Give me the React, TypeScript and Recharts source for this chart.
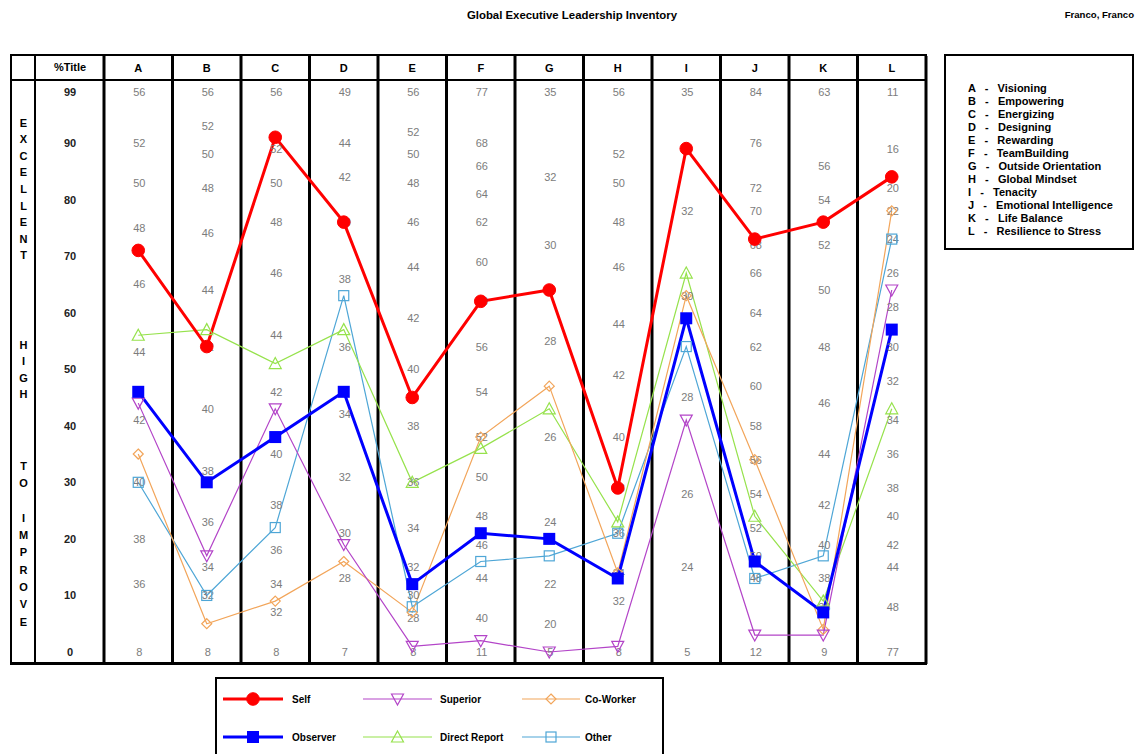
import React from 'react';
import { ComposedChart, Line, Scatter, XAxis, YAxis, ReferenceLine } from 'recharts';

const categories = ['A', 'B', 'C', 'D', 'E', 'F', 'G', 'H', 'I', 'J', 'K', 'L'];
const competencies = [
  'Visioning', 'Empowering', 'Energizing', 'Designing', 'Rewarding', 'TeamBuilding',
  'Outside Orientation', 'Global Mindset', 'Tenacity', 'Emotional Intelligence',
  'Life Balance', 'Resilience to Stress',
];
const pctTicks = [0, 10, 20, 30, 40, 50, 60, 70, 80, 90, 99];

// percentile per competency
const selfScores = [71, 54, 91, 76, 45, 62, 64, 29, 89, 73, 76, 84];
const observerScores = [46, 30, 38, 46, 12, 21, 20, 13, 59, 16, 7, 57];
const superiorScores = [44, 17, 43, 19, 1, 2, 0, 1, 41, 3, 3, 64];
const coWorkerScores = [35, 5, 9, 16, 7, 38, 47, 14, 63, 34, 4, 78];
const directReportScores = [56, 57, 51, 57, 30, 36, 43, 23, 67, 24, 9, 43];
const otherScores = [30, 10, 22, 63, 8, 16, 17, 21, 54, 13, 17, 73];

// raw score -> percentile, one list per column
const rawA = [[56, 99], [52, 90], [50, 83], [48, 75], [46, 65], [44, 53], [42, 41], [40, 30], [38, 20], [36, 12], [8, 0]];
const rawB = [[56, 99], [52, 93], [50, 88], [48, 82], [46, 74], [44, 64], [42, 54], [40, 43], [38, 32], [36, 23], [34, 15], [32, 10], [8, 0]];
const rawC = [[56, 99], [52, 89], [50, 83], [48, 76], [46, 67], [44, 56], [42, 46], [40, 35], [38, 26], [36, 18], [34, 12], [32, 7], [8, 0]];
const rawD = [[49, 99], [44, 90], [42, 84], [40, 76], [38, 66], [36, 54], [34, 42], [32, 31], [30, 21], [28, 13], [7, 0]];
const rawE = [[56, 99], [52, 92], [50, 88], [48, 83], [46, 76], [44, 68], [42, 59], [40, 50], [38, 40], [36, 30], [34, 22], [32, 15], [30, 10], [28, 6], [8, 0]];
const rawF = [[77, 99], [68, 90], [66, 86], [64, 81], [62, 76], [60, 69], [58, 62], [56, 54], [54, 46], [52, 38], [50, 31], [48, 24], [46, 19], [44, 13], [40, 6], [11, 0]];
const rawG = [[35, 99], [32, 84], [30, 72], [28, 55], [26, 38], [24, 23], [22, 12], [20, 5], [5, 0]];
const rawH = [[56, 99], [52, 88], [50, 83], [48, 76], [46, 68], [44, 58], [42, 49], [40, 38], [38, 29], [36, 21], [34, 14], [32, 9], [8, 0]];
const rawI = [[35, 99], [32, 78], [30, 63], [28, 45], [26, 28], [24, 15], [5, 0]];
const rawJ = [[84, 99], [76, 90], [72, 82], [70, 78], [68, 72], [66, 67], [64, 60], [62, 54], [60, 47], [58, 40], [56, 34], [54, 28], [52, 22], [50, 17], [48, 13], [12, 0]];
const rawK = [[63, 99], [56, 86], [54, 80], [52, 72], [50, 64], [48, 54], [46, 44], [44, 35], [42, 26], [40, 19], [38, 13], [36, 8], [9, 0]];
const rawL = [[11, 99], [16, 89], [20, 82], [22, 78], [24, 73], [26, 67], [28, 61], [30, 54], [32, 48], [34, 41], [36, 35], [38, 29], [40, 24], [42, 19], [44, 15], [48, 8], [77, 0]];
const rawColumns = [rawA, rawB, rawC, rawD, rawE, rawF, rawG, rawH, rawI, rawJ, rawK, rawL];

const series = [
  { key: 'other', name: 'Other', color: '#4ea6d6', width: 1.2, shape: 'square', values: otherScores },
  { key: 'directReport', name: 'Direct Report', color: '#96e24c', width: 1.2, shape: 'triUp', values: directReportScores },
  { key: 'coWorker', name: 'Co-Worker', color: '#f2a55a', width: 1.2, shape: 'diamond', values: coWorkerScores },
  { key: 'superior', name: 'Superior', color: '#b344c8', width: 1.2, shape: 'triDown', values: superiorScores },
  { key: 'observer', name: 'Observer', color: '#0000ff', width: 3, shape: 'filledSquare', values: observerScores },
  { key: 'self', name: 'Self', color: '#ff0000', width: 3, shape: 'circle', values: selfScores },
];
const legendOrder = ['self', 'superior', 'coWorker', 'observer', 'directReport', 'other'];

const chartData = categories.map((c, i) => {
  const row: any = { x: i, cat: c };
  series.forEach(s => { row[s.key] = s.values[i]; });
  return row;
});
const labelData = rawColumns.flatMap((col, i) => col.map(([score, pct]) => ({ x: i, y: pct, score })));

const FONT = '"Liberation Sans", Arial, sans-serif';

function Marker({ shape, cx, cy, color }: { shape: string; cx: number; cy: number; color: string }) {
  if (cx == null || cy == null) return null;
  switch (shape) {
    case 'circle':
      return <circle cx={cx} cy={cy} r={6.3} fill={color} stroke={color} />;
    case 'filledSquare':
      return <rect x={cx - 6} y={cy - 6} width={12} height={12} fill={color} />;
    case 'triDown':
      return <path d={`M${cx - 6},${cy - 5}L${cx + 6},${cy - 5}L${cx},${cy + 6}Z`} fill="none" stroke={color} strokeWidth={1.2} />;
    case 'triUp':
      return <path d={`M${cx - 6},${cy + 5}L${cx + 6},${cy + 5}L${cx},${cy - 6}Z`} fill="none" stroke={color} strokeWidth={1.2} />;
    case 'diamond':
      return <path d={`M${cx},${cy - 5}L${cx + 5},${cy}L${cx},${cy + 5}L${cx - 5},${cy}Z`} fill="none" stroke={color} strokeWidth={1.2} />;
    default:
      return <rect x={cx - 5} y={cy - 5} width={10} height={10} fill="none" stroke={color} strokeWidth={1.2} />;
  }
}

const HeaderTick = (props: any) => (
  <text x={props.x} y={68} textAnchor="middle" dominantBaseline="central" fontFamily={FONT} fontWeight="bold" fontSize={11} fill="#000">
    {categories[props.payload.value]}
  </text>
);

const PctTick = (props: any) => (
  <text x={70} y={props.y} textAnchor="middle" dominantBaseline="central" fontFamily={FONT} fontWeight="bold" fontSize={11} fill="#222">
    {props.payload.value}
  </text>
);

const RawLabel = (props: any) => (
  <text x={props.cx + 1} y={props.cy} textAnchor="middle" dominantBaseline="central" fontFamily={FONT} fontSize={11} fill="#7c7c7c">
    {props.payload.score}
  </text>
);

const abs = (left: number, top: number, extra: React.CSSProperties = {}): React.CSSProperties => ({ position: 'absolute', left, top, ...extra });

function SideWord({ text, top, step }: { text: string; top: number; step: number }) {
  return (
    <div style={abs(12, top, { width: 23, textAlign: 'center', fontWeight: 'bold', fontSize: 11, lineHeight: `${step}px`, whiteSpace: 'pre' })}>
      {text.split('').map((ch, i) => <div key={i}>{ch === ' ' ? '\u00a0' : ch}</div>)}
    </div>
  );
}

export default function App() {
  const separators = categories.map((_, i) => i - 0.5).concat([categories.length - 0.5]);
  const legendItems = legendOrder.map(k => series.find(s => s.key === k)!);
  const legendCols = [223, 363, 522];
  const legendText = [292, 440, 585];

  return (
    <div style={{ position: 'absolute', left: 0, top: 0, width: 1141, height: 754, background: '#fff', overflow: 'hidden', fontFamily: FONT, color: '#000' }}>
      <div style={abs(372, 9, { width: 400, textAlign: 'center', fontWeight: 'bold', fontSize: 11.4 })}>Global Executive Leadership Inventory</div>
      <div style={abs(934, 9, { width: 200, textAlign: 'right', fontWeight: 'bold', fontSize: 9.6 })}>Franco, Franco</div>

      {/* table frame */}
      <div style={abs(10, 54, { width: 917, height: 611, border: '2px solid #000', borderBottomWidth: 3, boxSizing: 'border-box' })} />
      <div style={abs(10, 79, { width: 917, height: 2, background: '#000' })} />
      <div style={abs(34, 54, { width: 2, height: 611, background: '#000' })} />
      <div style={abs(36, 61, { width: 68, textAlign: 'center', fontWeight: 'bold', fontSize: 11 })}>%Title</div>

      <SideWord text="EXCELLENT" top={114.7} step={16.6} />
      <SideWord text="HIGH" top={336.7} step={16.6} />
      <SideWord text="TO IMPROVE" top={458} step={17.3} />

      <div style={abs(0, 0)}>
        <ComposedChart width={1141} height={754} data={chartData} margin={{ top: 55, right: 215, bottom: 90, left: 36 }}>
          <XAxis dataKey="x" type="number" orientation="top" height={1} domain={[-0.5, 11.5]} ticks={categories.map((_, i) => i)}
            interval={0} axisLine={false} tickLine={false} tick={HeaderTick} />
          <YAxis type="number" width={68} domain={[-2.121, 105.37]} allowDataOverflow ticks={pctTicks} interval={0}
            axisLine={false} tickLine={false} tick={PctTick} />
          {separators.map(v => (
            <ReferenceLine key={v} x={v} stroke="#000" strokeWidth={3} ifOverflow="visible" />
          ))}
          <Scatter data={labelData} dataKey="y" shape={RawLabel} isAnimationActive={false} />
          {series.map(s => (
            <Line key={s.key} dataKey={s.key} stroke={s.color} strokeWidth={s.width} type="linear"
              isAnimationActive={false} activeDot={false}
              dot={(p: any) => <Marker key={`${s.key}-${p.index}`} shape={s.shape} cx={p.cx} cy={p.cy} color={s.color} />} />
          ))}
        </ComposedChart>
      </div>

      {/* competency key */}
      <div style={abs(944, 54, { width: 190, height: 196, border: '2px solid #000', boxSizing: 'border-box' })}>
        <div style={{ position: 'absolute', left: 22, top: 25.5, fontWeight: 'bold', fontSize: 11, lineHeight: '13px', whiteSpace: 'pre' }}>
          {categories.map((c, i) => <div key={c}>{`${c}   -   ${competencies[i]}`}</div>)}
        </div>
      </div>

      {/* series legend */}
      <div style={abs(215, 677, { width: 449, height: 100, border: '2px solid #000', boxSizing: 'border-box' })} />
      <svg style={abs(0, 0)} width={1141} height={754}>
        {legendItems.map((s, i) => {
          const col = i % 3;
          const y = i < 3 ? 699 : 737;
          const x0 = legendCols[col];
          const x1 = x0 + (col === 0 ? 60 : col === 1 ? 69 : 58);
          const mid = (x0 + x1) / 2;
          return (
            <g key={s.key}>
              <line x1={x0} x2={x1} y1={y} y2={y} stroke={s.color} strokeWidth={s.width} />
              <Marker shape={s.shape} cx={mid} cy={y} color={s.color} />
              <text x={legendText[col]} y={y} dominantBaseline="central" fontFamily={FONT} fontWeight="bold" fontSize={10}>{s.name}</text>
            </g>
          );
        })}
      </svg>
    </div>
  );
}
